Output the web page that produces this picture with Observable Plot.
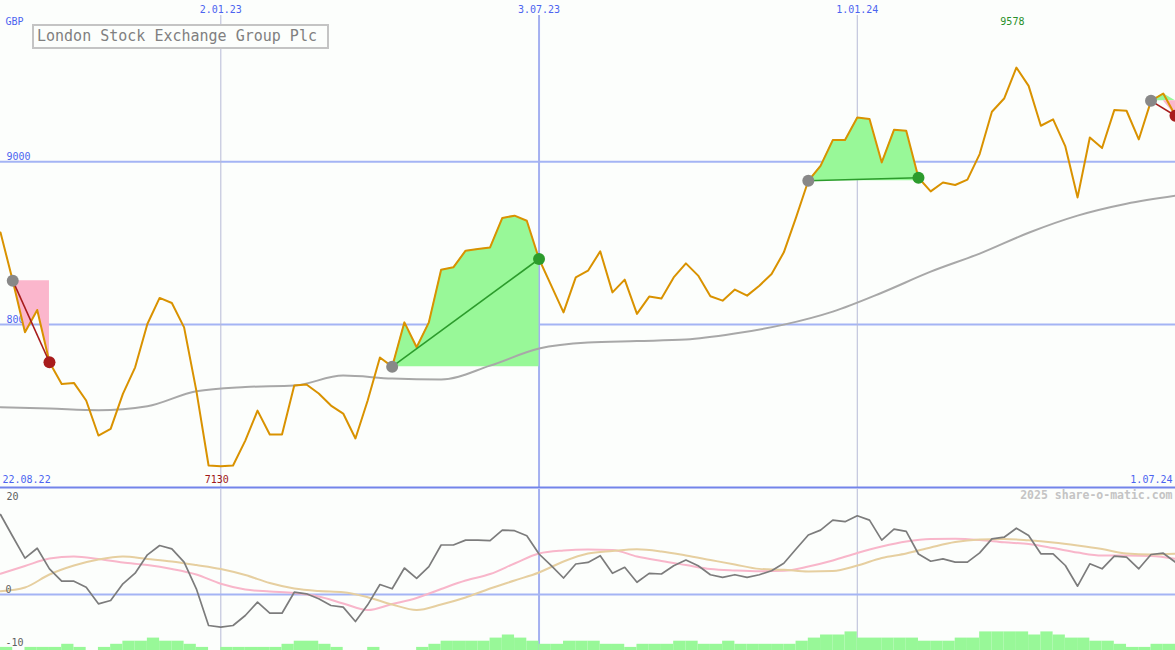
<!DOCTYPE html>
<html><head><meta charset="utf-8">
<script src="https://cdn.jsdelivr.net/npm/d3@7"></script>
<script src="https://cdn.jsdelivr.net/npm/@observablehq/plot@0.6"></script>
<style>
html,body{margin:0;padding:0;background:#fcfefc;}
#chart{position:relative;width:1175px;height:650px;overflow:hidden;background:#fcfefc;}
#chart svg{display:block;}
#vol{position:absolute;left:0;top:489px;}
#title{position:absolute;left:32px;top:24px;width:290px;height:21px;border:2px solid #c4c4c4;font:15px "DejaVu Sans Mono",monospace;color:#808080;line-height:21px;padding-left:3px;background:#fcfefc;z-index:2;white-space:nowrap;}
</style></head><body>
<div id="chart"><div id="title">London Stock Exchange Group Plc</div></div>
<script>
// ---- data (weekly, starting 29.08.22) ----
const startDate = "2022-08-29";
const closes = [8566,8270,7953,8090,7769,7636,7642,7534,7319,7360,
7575,7738,8004,8164,8133,7983,7595,7135,7130,7135,
7288,7472,7325,7325,7626,7632,7577,7503,7454,7301,
7534,7798,7742,8014,7861,8014,8337,8352,8454,8464,
8474,8655,8669,8638,8403,8239,8075,8290,8331,8450,
8198,8276,8066,8172,8161,8290,8376,8301,8174,8147,
8215,8178,8239,8311,8444,8658,8883,8975,9133,9133,
9272,9262,8996,9196,9190,8902,8818,8873,8857,8890,
9047,9307,9388,9578,9466,9221,9260,9094,8781,9149,
9084,9317,9313,9137,9374,9419,9282];
// long moving average, every 4th week
const movingAvg4w = [7493,7485,7475,7499,7591,7617,7626,7687,7669,7663,7748,7853,7890,7899,7908,7945,8000,8080,8196,8325,8436,8564,8669,8742,8791];
// momentum oscillator (weekly)
const momentum = [14.95,10.84,6.79,8.65,4.80,2.49,2.49,1.36,-1.74,-1.12,
2.0,3.98,7.42,9.16,8.54,6.04,1.07,-5.79,-6.11,-5.79,
-3.93,-1.44,-3.50,-3.50,0.43,0.13,-0.80,-2.06,-2.37,-5.05,
-1.93,1.87,1.07,4.95,3.03,5.20,9.25,9.25,10.17,10.17,
10.06,12.04,11.93,10.99,7.57,5.38,3.08,5.70,6.0,7.25,
3.96,5.08,2.28,3.96,3.83,5.38,6.45,5.38,3.70,3.21,
3.70,3.21,3.70,4.45,5.83,8.50,11.12,12.04,13.91,13.61,
14.71,13.91,10.17,12.22,11.79,7.57,6.22,6.67,6.04,6.04,
7.79,10.41,10.71,12.39,11.03,7.61,7.61,5.42,1.55,5.74,
4.80,7.16,6.97,4.80,7.48,7.72,6.04];
// smoothed oscillators, every 2nd week
const signalPink2w = [3.87,5.33,6.73,7.10,6.64,5.98,5.51,4.77,3.74,2.0,
0.93,0.56,0.28,-0.37,-1.68,-2.90,-1.78,-0.65,1.03,2.62,
3.83,5.79,7.66,8.22,8.41,8.32,7.10,6.26,5.51,4.77,
4.49,4.34,4.43,5.23,6.36,7.76,8.97,9.91,10.37,10.41,
10.19,9.76,9.44,8.69,7.85,7.29,7.29,7.20,6.67];
const signalTan2w = [0.62,1.31,3.74,5.42,6.54,7.10,6.64,6.17,5.51,4.77,
3.64,2.15,1.12,0.65,0.43,-0.50,-1.87,-2.90,-1.87,-0.56,
1.12,2.62,4.11,6.17,7.66,8.13,8.45,8.04,7.29,6.45,
5.61,4.79,4.62,4.30,4.39,5.42,6.82,7.66,8.79,9.81,
10.28,10.39,10.13,9.72,9.16,8.50,7.66,7.48,7.61];
// weekly volume (relative units)
const volume = [1,0,1,1,1,2,1,0,1,2, 3,3,4,3,3,2,1,0,1,1, 1,1,1,2,3,3,2,1,0,0,
1,0,0,0,1,2,3,3,3,3, 4,5,4,3,2,2,3,3,3,2, 2,1,2,2,2,3,3,2,2,3,
2,2,2,2,2,3,4,5,5,6, 4,4,4,4,4,3,3,3,4,4, 6,6,6,6,5,6,5,4,4,3, 3,2,1,1,2,2];
// trade signals (week index of entry / exit)
const signals = [
  {entry: 1, exit: 4, type: "sell"},
  {entry: 32, exit: 44, type: "buy"},
  {entry: 66, exit: 75, type: "buy"},
  {entry: 94, exit: 96, type: "sell"}
];
const priceTicks = [8000, 9000];
const oscTicks = [20, 0, -10];
const gridDates = [
  {date: "2023-01-02", label: "2.01.23", major: false},
  {date: "2023-07-03", label: "3.07.23", major: true},
  {date: "2024-01-01", label: "1.01.24", major: false}
];
const edgeLabels = ["22.08.22", "1.07.24"];
const currency = "GBP";
const title = "London Stock Exchange Group Plc";
const copyright = "2025 share-o-matic.com";

// ---- build ----
const t0 = new Date(startDate + "T00:00:00Z").getTime();
const week = i => new Date(t0 + i * 7 * 864e5);
const xDomain = [week(0), week(closes.length - 1)];
const priceData = closes.map((v, i) => ({date: week(i), value: v}));
const maData = movingAvg4w.map((v, k) => ({date: week(4 * k), value: v}));
const momData = momentum.map((v, i) => ({date: week(i), value: v}));
const pinkData = signalPink2w.map((v, k) => ({date: week(2 * k), value: v}));
const tanData = signalTan2w.map((v, k) => ({date: week(2 * k), value: v}));
const volData = volume.map((v, i) => ({start: week(i), end: week(i + 1), v}));
const grid = gridDates.map(d => ({...d, date: new Date(d.date + "T00:00:00Z")}));
const areaData = signals.flatMap((s, k) => {
  const e = closes[s.entry];
  return d3.range(s.entry, s.exit + 1).map(i => ({sig: k, date: week(i), entry: e,
    up: Math.max(closes[i], e), down: Math.min(closes[i], e)}));
});
const linkData = signals.map(s => ({type: s.type, x1: week(s.entry), y1: closes[s.entry], x2: week(s.exit), y2: closes[s.exit]}));
const entryPts = signals.map(s => ({date: week(s.entry), value: closes[s.entry]}));
const exitPts = signals.map(s => ({type: s.type, date: week(s.exit), value: closes[s.exit]}));
const iMax = d3.maxIndex(closes), iMin = d3.minIndex(closes);

const font = "'DejaVu Sans Mono', monospace";
const blue = "#4c64f0";
const green = "#2c9c2c", red = "#a81c1c";

const topPlot = Plot.plot({
  width: 1175, height: 489,
  marginTop: 0, marginRight: 0, marginBottom: 2, marginLeft: 0,
  style: {background: "transparent", fontFamily: font, fontSize: "10px", overflow: "visible"},
  x: {type: "utc", domain: xDomain, axis: null},
  y: {domain: [7000, 9990], axis: null},
  marks: [
    Plot.ruleY(priceTicks, {stroke: "#a4b4f4", strokeWidth: 2}),
    Plot.ruleX(grid.filter(d => !d.major), {x: "date", stroke: "#b6bad6", strokeWidth: 1, insetTop: 15}),
    Plot.ruleX(grid.filter(d => d.major), {x: "date", stroke: "#a4b0f0", strokeWidth: 2, insetTop: 15}),
    Plot.text(priceTicks, {x: () => xDomain[0], y: d => d, text: d => String(d), textAnchor: "start", dx: 6, dy: -5, fill: blue}),
    Plot.areaY(areaData, {x: "date", y1: "entry", y2: "up", z: "sig", fill: "#98f898"}),
    Plot.areaY(areaData, {x: "date", y1: "entry", y2: "down", z: "sig", fill: "#fbb6cc"}),
    Plot.line(maData, {x: "date", y: "value", stroke: "#a8a8a8", strokeWidth: 2, curve: "monotone-x"}),
    Plot.line(priceData, {x: "date", y: "value", stroke: "#d99200", strokeWidth: 2}),
    Plot.link(linkData.filter(d => d.type === "buy"), {x1: "x1", y1: "y1", x2: "x2", y2: "y2", stroke: green, strokeWidth: 1.6}),
    Plot.link(linkData.filter(d => d.type === "sell"), {x1: "x1", y1: "y1", x2: "x2", y2: "y2", stroke: red, strokeWidth: 1.6}),
    Plot.dot(entryPts, {x: "date", y: "value", r: 6, fill: "#888888"}),
    Plot.dot(exitPts.filter(d => d.type === "buy"), {x: "date", y: "value", r: 6, fill: green}),
    Plot.dot(exitPts.filter(d => d.type === "sell"), {x: "date", y: "value", r: 6, fill: red}),
    Plot.ruleY([7000], {stroke: "#7384ea", strokeWidth: 2}),
    Plot.text([currency], {text: d => d, frameAnchor: "top-left", lineAnchor: "middle", dx: 5, dy: 21, fill: blue}),
    Plot.text(grid, {x: "date", text: "label", frameAnchor: "top", lineAnchor: "middle", dy: 9, fill: blue}),
    Plot.text([edgeLabels[0]], {text: d => d, frameAnchor: "bottom-left", lineAnchor: "middle", dx: 2, dy: -8, fill: blue}),
    Plot.text([edgeLabels[1]], {text: d => d, frameAnchor: "bottom-right", lineAnchor: "middle", dx: -3, dy: -8, fill: blue}),
    Plot.text([priceData[iMax]], {x: "date", text: d => String(d.value), frameAnchor: "top", lineAnchor: "middle", dx: -4, dy: 21, fill: "#28902a"}),
    Plot.text([priceData[iMin]], {x: "date", text: d => String(d.value), frameAnchor: "bottom", lineAnchor: "middle", dx: -4, dy: -8, fill: "#a01818"})
  ]
});

const bottomPlot = Plot.plot({
  width: 1175, height: 161,
  marginTop: 0, marginRight: 0, marginBottom: 0, marginLeft: 0,
  style: {background: "transparent", fontFamily: font, fontSize: "10px", overflow: "visible"},
  x: {type: "utc", domain: xDomain, axis: null},
  y: {domain: [-10.47, 19.63], axis: null},
  marks: [
    Plot.ruleX(grid.filter(d => !d.major), {x: "date", stroke: "#b6bad6", strokeWidth: 1}),
    Plot.ruleX(grid.filter(d => d.major), {x: "date", stroke: "#a4b0f0", strokeWidth: 2}),
    Plot.ruleY([0], {stroke: "#a4b4f4", strokeWidth: 2}),
    Plot.line(pinkData, {x: "date", y: "value", stroke: "#f8b6ca", strokeWidth: 2, curve: "monotone-x"}),
    Plot.line(tanData, {x: "date", y: "value", stroke: "#e6cfa0", strokeWidth: 2, curve: "monotone-x"}),
    Plot.line(momData, {x: "date", y: "value", stroke: "#7c7c7c", strokeWidth: 1.7}),
    Plot.text(oscTicks.filter(d => d > 0), {x: () => xDomain[0], y: d => d, text: d => String(d), textAnchor: "start", dx: 6, dy: 9, fill: "#606060"}),
    Plot.text(oscTicks.filter(d => d <= 0), {x: () => xDomain[0], y: d => d, text: d => String(d), textAnchor: "start", dx: 5, dy: -5, fill: "#606060"}),
    Plot.text([copyright], {text: d => d, frameAnchor: "top-right", lineAnchor: "middle", dx: -3, dy: 6, fill: "#c4c4c4", fontSize: 11.5, fontWeight: "bold"})
  ]
});

const volPlot = Plot.plot({
  width: 1175, height: 161,
  marginTop: 0, marginRight: 0, marginBottom: 0, marginLeft: 0,
  style: {background: "transparent", overflow: "visible"},
  x: {type: "utc", domain: xDomain, axis: null},
  y: {domain: [0, 161 / 3.1], axis: null},
  marks: [
    Plot.rectY(volData, {x1: "start", x2: "end", y: "v", fill: "#98f898"})
  ]
});
volPlot.id = "vol";

const chart = document.getElementById("chart");
chart.appendChild(topPlot);
chart.appendChild(bottomPlot);
chart.appendChild(volPlot);
</script>
</body></html>
